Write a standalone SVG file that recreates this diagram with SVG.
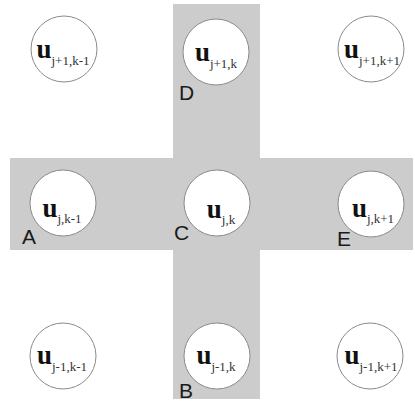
<svg xmlns="http://www.w3.org/2000/svg" width="415" height="403" viewBox="0 0 415 403">
<style>
.bg{fill:#ffffff}
.cross{fill:#cccccc}
.node circle{fill:#ffffff;stroke:#8a8a8a;stroke-width:1}
.u{font-family:"Liberation Serif","Times New Roman",serif;font-weight:bold;font-size:27px;fill:#111}
.sub{font-family:"Liberation Serif","Times New Roman",serif;font-weight:normal;font-size:13px;fill:#333}
.lbl{font-family:"Liberation Sans",Arial,sans-serif;font-size:21px;fill:#1a1a1a}
</style>
<rect class="bg" x="0" y="0" width="415" height="403"/>
<path id="stencil" class="cross" d="M173 4 H260 V158 H413 V250 H260 V399 H173 V250 H10 V158 H173 Z"/>
<g id="connectors"/>
<g id="n-jp1-km1" class="node">
<circle cx="64" cy="49" r="33"/>
<text class="u" x="63" y="58" text-anchor="middle">u<tspan class="sub" dy="7">j+1,k-1</tspan></text>
</g>
<g id="n-jp1-k" class="node">
<circle cx="216" cy="52" r="33"/>
<text class="u" x="216" y="61" text-anchor="middle">u<tspan class="sub" dy="7">j+1,k</tspan></text>
</g>
<g id="n-jp1-kp1" class="node">
<circle cx="371" cy="49" r="33"/>
<text class="u" x="372" y="58" text-anchor="middle">u<tspan class="sub" dy="7">j+1,k+1</tspan></text>
</g>
<g id="n-j-km1" class="node">
<circle cx="63" cy="203" r="33"/>
<text class="u" x="62" y="217" text-anchor="middle">u<tspan class="sub" dy="6">j,k-1</tspan></text>
</g>
<g id="n-j-k" class="node">
<circle cx="217" cy="203" r="33"/>
<text class="u" x="221" y="218" text-anchor="middle">u<tspan class="sub" dy="6">j,k</tspan></text>
</g>
<g id="n-j-kp1" class="node">
<circle cx="371" cy="204" r="33"/>
<text class="u" x="373" y="217" text-anchor="middle">u<tspan class="sub" dy="6">j,k+1</tspan></text>
</g>
<g id="n-jm1-km1" class="node">
<circle cx="63" cy="356" r="33"/>
<text class="u" x="62" y="364" text-anchor="middle">u<tspan class="sub" dy="7">j-1,k-1</tspan></text>
</g>
<g id="n-jm1-k" class="node">
<circle cx="217" cy="356" r="33"/>
<text class="u" x="216" y="364" text-anchor="middle">u<tspan class="sub" dy="7">j-1,k</tspan></text>
</g>
<g id="n-jm1-kp1" class="node">
<circle cx="370" cy="356" r="33"/>
<text class="u" x="371" y="364" text-anchor="middle">u<tspan class="sub" dy="7">j-1,k+1</tspan></text>
</g>
<g id="labels">
<text id="lbl-A" class="lbl" x="22" y="244">A</text>
<text id="lbl-B" class="lbl" x="179" y="398">B</text>
<text id="lbl-C" class="lbl" x="174" y="240">C</text>
<text id="lbl-D" class="lbl" x="179" y="100">D</text>
<text id="lbl-E" class="lbl" x="337" y="246">E</text>
</g>
</svg>
